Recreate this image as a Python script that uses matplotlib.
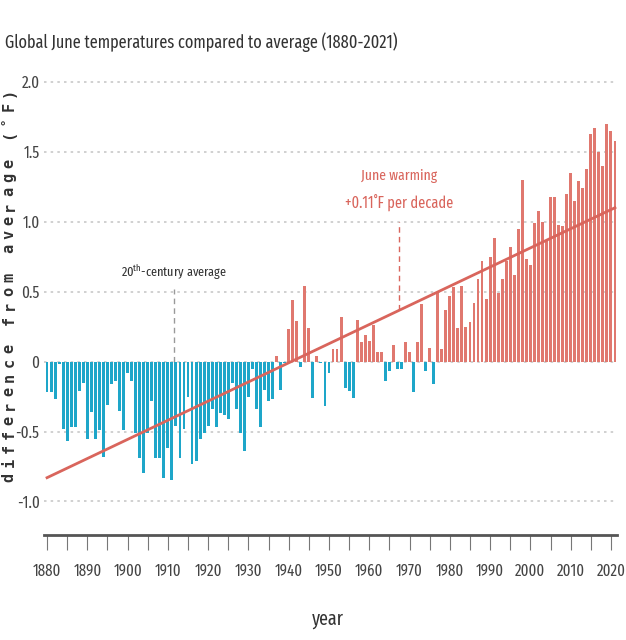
import matplotlib
matplotlib.use("Agg")
import matplotlib.pyplot as plt
from matplotlib import font_manager

# June temperature anomalies (deg F vs 20th-century average)
years = list(range(1880, 2022))
anomaly = [
    -0.22, -0.22, -0.27, -0.02, -0.48, -0.57, -0.47, -0.47, -0.21, -0.15,   # 1880s
    -0.55, -0.36, -0.55, -0.49, -0.68, -0.31, -0.16, -0.14, -0.35, -0.49,   # 1890s
    -0.08, -0.14, -0.51, -0.69, -0.80, -0.51, -0.28, -0.69, -0.69, -0.83,   # 1900s
    -0.62, -0.85, -0.46, -0.69, -0.48, -0.25, -0.73, -0.71, -0.55, -0.51,   # 1910s
    -0.46, -0.34, -0.47, -0.37, -0.38, -0.41, -0.15, -0.34, -0.51, -0.64,   # 1920s
    -0.25, -0.05, -0.34, -0.47, -0.20, -0.28, -0.27, 0.04, -0.20, -0.01,    # 1930s
    0.23, 0.44, 0.29, -0.04, 0.54, 0.24, -0.26, 0.04, -0.01, -0.32,         # 1940s
    -0.08, 0.09, 0.09, 0.32, -0.19, -0.21, -0.26, 0.30, 0.14, 0.19,         # 1950s
    0.15, 0.26, 0.07, 0.07, -0.14, -0.07, 0.12, -0.05, -0.05, 0.14,         # 1960s
    0.07, -0.22, 0.14, 0.41, -0.07, 0.10, -0.16, 0.49, 0.09, 0.37,          # 1970s
    0.47, 0.53, 0.24, 0.54, 0.25, 0.28, 0.42, 0.59, 0.72, 0.45,             # 1980s
    0.75, 0.88, 0.49, 0.59, 0.72, 0.82, 0.62, 0.95, 1.30, 0.73,             # 1990s
    0.69, 0.99, 1.08, 1.00, 0.86, 1.18, 1.18, 0.98, 0.97, 1.20,             # 2000s
    1.35, 1.15, 1.29, 1.24, 1.38, 1.63, 1.67, 1.50, 1.40, 1.70,             # 2010s
    1.65, 1.58,                                                             # 2020s
]

trend_years = [1880, 2021]
trend_values = [-0.83, 1.10]

ytick_values = [-1.0, -0.5, 0, 0.5, 1.0, 1.5, 2.0]
ytick_labels = ["-1.0", "-0.5", "0", "0.5", "1.0", "1.5", "2.0"]

blue = "#1ea6c9"
red = "#e0786f"
red_dark = "#d9655c"
gray_text = "#444444"

# a tightly condensed font, the reference text is very narrow
installed = {f.name for f in font_manager.fontManager.ttflist}
narrow = "DejaVu Sans"
for name in ["Fira Sans Extra Condensed", "Saira Extra Condensed", "Barlow Condensed",
             "Ubuntu Condensed", "Asap Condensed", "Archivo Narrow"]:
    if name in installed:
        narrow = name
        break
plt.rcParams["font.family"] = [narrow, "DejaVu Sans"]
plt.rcParams["mathtext.fontset"] = "custom"
plt.rcParams["mathtext.rm"] = narrow

fig = plt.figure(figsize=(6.26, 6.40), dpi=100)
renderer = fig.canvas.get_renderer()


def fit_width(t, target_px):
    # scale font so the text is about as wide as in the reference
    w = t.get_window_extent(renderer).width
    t.set_fontsize(t.get_fontsize() * target_px / w)


# tick label size, measured on a sample label
probe = fig.text(0, 0, "1880", fontsize=12)
fit_width(probe, 29)
xtick_size = probe.get_fontsize()
probe.set_text("2.0")
probe.set_fontsize(12)
fit_width(probe, 18)
ytick_size = probe.get_fontsize()
probe.remove()

ax = fig.add_axes([0.0655, 0.164, 0.9265, 0.730])

colors = [red if v > 0 else blue for v in anomaly]
ax.bar(years, anomaly, width=0.72, color=colors, zorder=2)
ax.plot(trend_years, trend_values, color=red_dark, lw=2, zorder=3)

ax.set_xlim(1878.5, 2022.5)
ax.set_ylim(-1.24, 2.1)

# dotted grid lines
for v in ytick_values:
    ax.plot([1879.3, 2021.5], [v, v], color="#c8c8c8", lw=1.2,
            linestyle=(0, (1.5, 2.5)), zorder=1)

ax.set_yticks(ytick_values)
ax.set_yticklabels(ytick_labels)
ax.tick_params(axis="y", length=0, pad=1, labelsize=ytick_size, labelcolor=gray_text)

ax.set_xticks(range(1880, 2021, 10))
ax.set_xticks(range(1885, 2021, 10), minor=True)
ax.tick_params(axis="x", which="both", direction="out", length=11, width=0.8,
               color="#777777", labelsize=xtick_size, labelcolor=gray_text, pad=9)

for side in ["top", "right", "left"]:
    ax.spines[side].set_visible(False)
ax.spines["bottom"].set_color("#555555")
ax.spines["bottom"].set_linewidth(2)
ax.spines["bottom"].set_bounds(1879.3, 2021.5)

# annotations
ax.plot([1911.5, 1911.5], [0, 0.52], color="#999999", lw=1, linestyle=(0, (4, 3)), zorder=1)
t = ax.text(1911.5, 0.64, r"20$^{\rm th}$-century average", ha="center", va="center",
            fontsize=12, color="#333333")
fit_width(t, 106)

ax.plot([1967.5, 1967.5], [0.37, 1.0], color=red_dark, lw=1, linestyle=(0, (4, 3)), zorder=1)
t = ax.text(1967.5, 1.33, "June warming", ha="center", va="center", fontsize=12, color=red_dark)
fit_width(t, 76)
t = ax.text(1967.5, 1.14, "+0.11˚F per decade", ha="center", va="center", fontsize=12, color=red_dark)
fit_width(t, 108)

t = fig.text(5 / 626, 1 - 42 / 640, "Global June temperatures compared to average (1880-2021)",
             ha="left", va="center", fontsize=15, color="#333333")
fit_width(t, 395)
t = fig.text(328 / 626, 1 - 619 / 640, "year", ha="center", va="center", fontsize=14, color="#333333")
fit_width(t, 32)

# letter-spaced y label, one character at a time
ylabel = "difference from average (˚F)"
y_start, y_end = 477, 92
step = (y_start - y_end) / (len(ylabel) - 1)
for i, ch in enumerate(ylabel):
    fig.text(9 / 626, 1 - (y_start - i * step) / 640, ch, rotation=90,
             ha="center", va="center", fontsize=11, fontweight="bold",
             family="DejaVu Sans Mono", color="#333333")

fig.savefig("out.png", dpi=100)
